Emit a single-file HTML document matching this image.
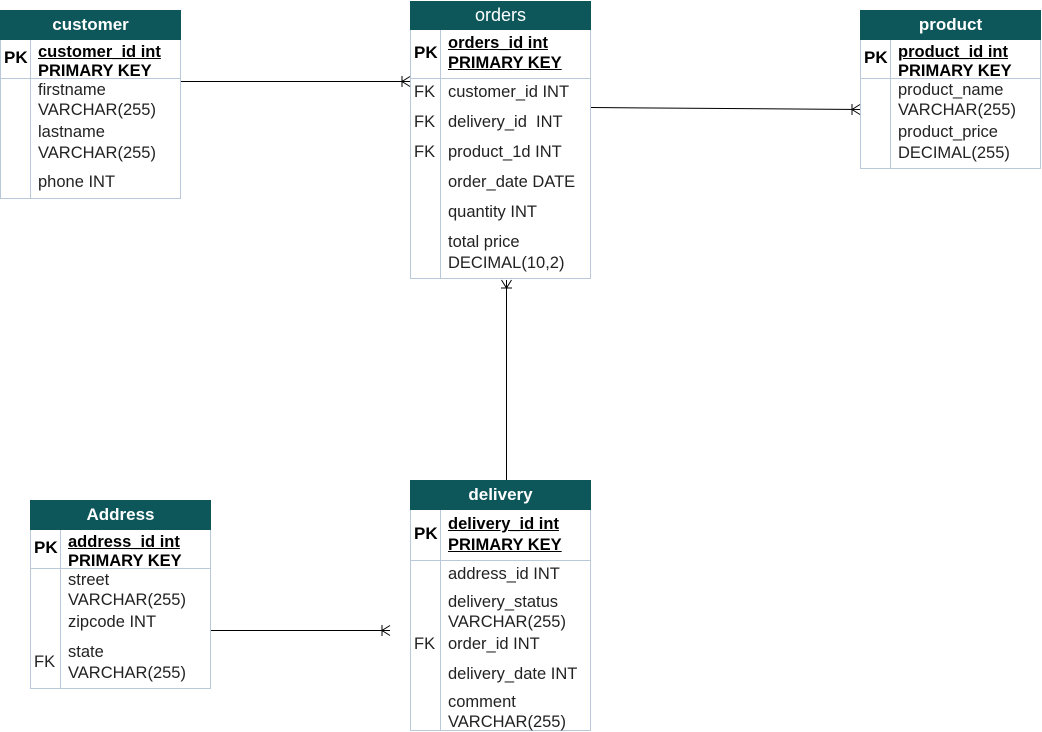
<!DOCTYPE html>
<html><head><style>
body{margin:0;width:1042px;height:732px;background:#fff;position:relative;overflow:hidden;font-family:"Liberation Sans",Arial,sans-serif;}
.box{position:absolute;border:1px solid #b9c9d9;box-sizing:border-box;background:#fff;}
.hd{position:absolute;background:#0d5659;color:#fff;font-weight:bold;font-size:17px;text-align:center;box-sizing:border-box;}
.hl{position:absolute;height:1px;background:#b9c9d9;}
.vl{position:absolute;width:1px;background:#b9c9d9;}
.t{position:absolute;font-size:16.5px;line-height:18px;color:#222;white-space:nowrap;}
.b{font-weight:bold;color:#000;}
.u{text-decoration:underline;}
.c{position:absolute;overflow:hidden;}
</style></head><body>

<!-- customer -->
<div class="box" style="left:0;top:10px;width:181px;height:189px"></div>
<div class="hd" style="left:0;top:10px;width:181px;height:30px;line-height:30px">customer</div>
<div class="hl" style="left:0;top:78px;width:181px"></div>
<div class="vl" style="left:30px;top:40px;height:158px"></div>
<div class="t b" style="left:4px;top:49px;font-size:17px">PK</div>
<div class="c" style="left:38px;top:40px;width:142px;height:38px">
<div class="t b u" style="left:0;top:3px">customer_id int</div>
<div class="t b" style="left:0;top:22px">PRIMARY KEY</div></div>
<div class="t" style="left:38px;top:81px">firstname</div>
<div class="t" style="left:38px;top:101px">VARCHAR(255)</div>
<div class="t" style="left:38px;top:123px">lastname</div>
<div class="t" style="left:38px;top:144px">VARCHAR(255)</div>
<div class="t" style="left:38px;top:173px">phone INT</div>

<!-- orders -->
<div class="box" style="left:410px;top:1px;width:181px;height:278px"></div>
<div class="hd" style="left:410px;top:1px;width:181px;height:29px;line-height:29px;font-weight:normal;font-size:18px">orders</div>
<div class="hl" style="left:410px;top:78px;width:181px"></div>
<div class="vl" style="left:440px;top:30px;height:248px"></div>
<div class="t b" style="left:414px;top:44px;font-size:17px">PK</div>
<div class="t b u" style="left:448px;top:34px">orders_id int</div>
<div class="t b u" style="left:448px;top:54px">PRIMARY KEY</div>
<div class="t" style="left:414px;top:83px">FK</div>
<div class="t" style="left:448px;top:83px">customer_id INT</div>
<div class="t" style="left:414px;top:113px">FK</div>
<div class="t" style="left:448px;top:113px">delivery_id&nbsp; INT</div>
<div class="t" style="left:414px;top:143px">FK</div>
<div class="t" style="left:448px;top:143px">product_1d INT</div>
<div class="t" style="left:448px;top:173px">order_date DATE</div>
<div class="t" style="left:448px;top:203px">quantity INT</div>
<div class="t" style="left:448px;top:233px">total price</div>
<div class="t" style="left:448px;top:254px">DECIMAL(10,2)</div>

<!-- product -->
<div class="box" style="left:860px;top:10px;width:181px;height:159px"></div>
<div class="hd" style="left:860px;top:10px;width:181px;height:30px;line-height:30px">product</div>
<div class="hl" style="left:860px;top:78px;width:181px"></div>
<div class="vl" style="left:890px;top:40px;height:128px"></div>
<div class="t b" style="left:864px;top:49px;font-size:17px">PK</div>
<div class="c" style="left:898px;top:40px;width:142px;height:38px">
<div class="t b u" style="left:0;top:3px">product_id int</div>
<div class="t b" style="left:0;top:22px">PRIMARY KEY</div></div>
<div class="t" style="left:898px;top:81px">product_name</div>
<div class="t" style="left:898px;top:101px">VARCHAR(255)</div>
<div class="t" style="left:898px;top:123px">product_price</div>
<div class="t" style="left:898px;top:144px">DECIMAL(255)</div>

<!-- Address -->
<div class="box" style="left:30px;top:500px;width:181px;height:189px"></div>
<div class="hd" style="left:30px;top:500px;width:181px;height:30px;line-height:30px">Address</div>
<div class="hl" style="left:30px;top:568px;width:181px"></div>
<div class="vl" style="left:60px;top:530px;height:158px"></div>
<div class="t b" style="left:34px;top:539px;font-size:17px">PK</div>
<div class="c" style="left:68px;top:530px;width:142px;height:38px">
<div class="t b u" style="left:0;top:3px">address_id int</div>
<div class="t b" style="left:0;top:22px">PRIMARY KEY</div></div>
<div class="t" style="left:68px;top:571px">street</div>
<div class="t" style="left:68px;top:591px">VARCHAR(255)</div>
<div class="t" style="left:68px;top:613px">zipcode INT</div>
<div class="t" style="left:34px;top:653px">FK</div>
<div class="t" style="left:68px;top:643px">state</div>
<div class="t" style="left:68px;top:664px">VARCHAR(255)</div>

<!-- delivery -->
<div class="box" style="left:410px;top:480px;width:181px;height:251px"></div>
<div class="hd" style="left:410px;top:480px;width:181px;height:30px;line-height:30px">delivery</div>
<div class="hl" style="left:410px;top:560px;width:181px"></div>
<div class="vl" style="left:440px;top:510px;height:221px"></div>
<div class="t b" style="left:414px;top:525px;font-size:17px">PK</div>
<div class="t b u" style="left:448px;top:515px">delivery_id int</div>
<div class="t b u" style="left:448px;top:536px">PRIMARY KEY</div>
<div class="t" style="left:448px;top:565px">address_id INT</div>
<div class="t" style="left:448px;top:593px">delivery_status</div>
<div class="t" style="left:448px;top:613px">VARCHAR(255)</div>
<div class="t" style="left:414px;top:635px">FK</div>
<div class="t" style="left:448px;top:635px">order_id INT</div>
<div class="t" style="left:448px;top:665px">delivery_date INT</div>
<div class="t" style="left:448px;top:693px">comment</div>
<div class="t" style="left:448px;top:713px">VARCHAR(255)</div>

<svg width="1042" height="732" style="position:absolute;left:0;top:0" fill="none" stroke="#000" stroke-width="1">
<path d="M181 81.5H410M410 76.5L402 81.5L410 86.5M402 76v11"/>
<path d="M591 107.5L860 109.5M860 104.5L852 109.5L860 114.5M852 104v11"/>
<path d="M506.5 480V280M501.5 280L506.5 288L511.5 280M501 288h11"/>
<path d="M211 630.5H390M390 625.5L382 630.5L390 635.5M382 625v11"/>
</svg>
</body></html>
